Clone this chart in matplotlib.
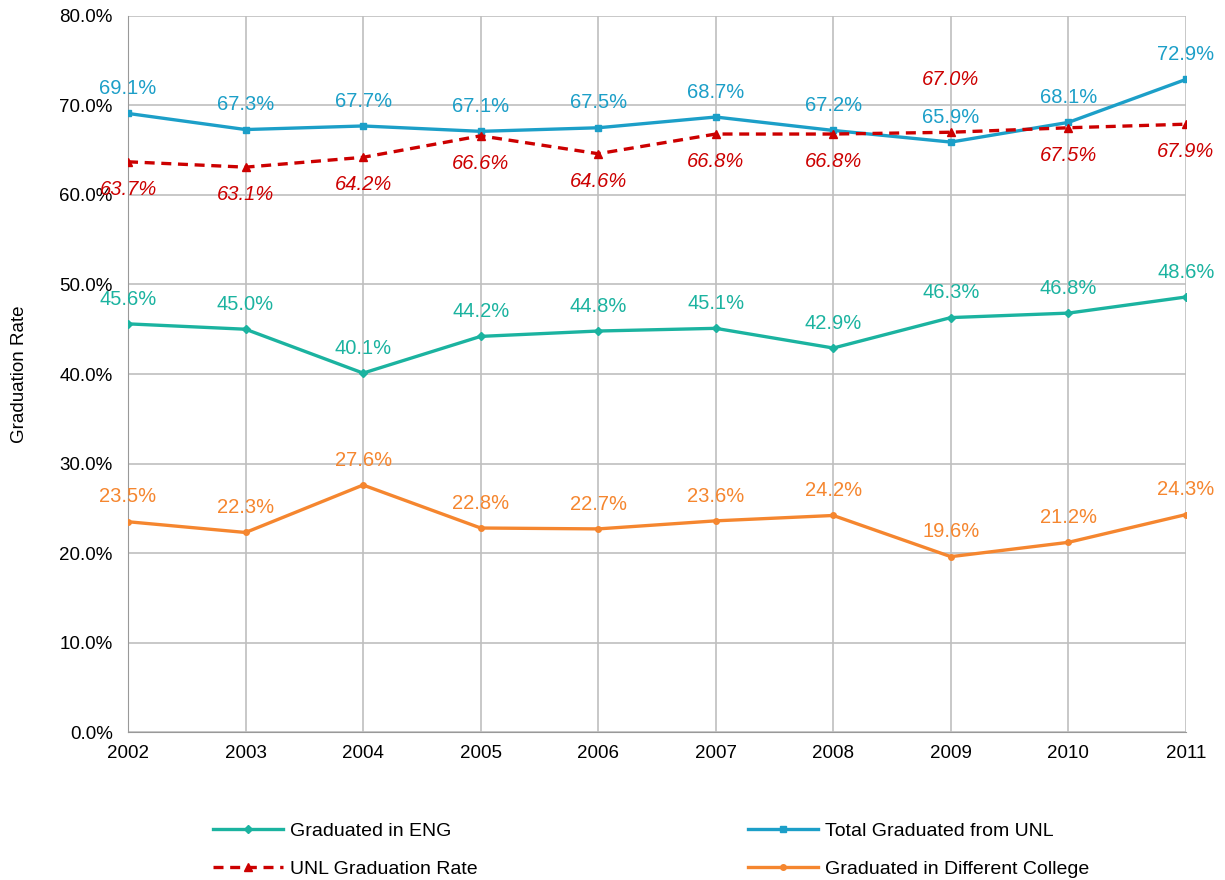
import matplotlib.pyplot as plt
from matplotlib.ticker import FuncFormatter

years = [2002, 2003, 2004, 2005, 2006, 2007, 2008, 2009, 2010, 2011]
eng = [45.6, 45.0, 40.1, 44.2, 44.8, 45.1, 42.9, 46.3, 46.8, 48.6]
total_unl = [69.1, 67.3, 67.7, 67.1, 67.5, 68.7, 67.2, 65.9, 68.1, 72.9]
unl_rate = [63.7, 63.1, 64.2, 66.6, 64.6, 66.8, 66.8, 67.0, 67.5, 67.9]
diff_college = [23.5, 22.3, 27.6, 22.8, 22.7, 23.6, 24.2, 19.6, 21.2, 24.3]

c_eng = "#1BB3A0"
c_total = "#1C9FC8"
c_rate = "#CC0000"
c_diff = "#F5862F"

plt.rcParams['font.family'] = ['Liberation Sans', 'DejaVu Sans']

fig = plt.figure(figsize=(12.25, 8.8), dpi=100)
ax = fig.add_axes([0.1045, 0.168, 0.8636, 0.814])

l1, = ax.plot(years, eng, color=c_eng, lw=2.4, marker="D", ms=4, label="Graduated in ENG", zorder=3)
l2, = ax.plot(years, total_unl, color=c_total, lw=2.4, marker="s", ms=5, label="Total Graduated from UNL", zorder=3)
l3, = ax.plot(years, unl_rate, color=c_rate, lw=2.4, ls=(0, (3, 2)), marker="^", ms=6, label="UNL Graduation Rate", zorder=3)
l4, = ax.plot(years, diff_college, color=c_diff, lw=2.4, marker="o", ms=4, label="Graduated in Different College", zorder=3)

fs = 14.5
for x, y in zip(years, eng):
    ax.annotate(f"{y:.1f}%", (x, y), xytext=(0, 11), textcoords="offset points",
                ha="center", va="bottom", color=c_eng, fontsize=fs)
for x, y in zip(years, total_unl):
    ax.annotate(f"{y:.1f}%", (x, y), xytext=(0, 11), textcoords="offset points",
                ha="center", va="bottom", color=c_total, fontsize=fs)
for x, y in zip(years, unl_rate):
    if x == 2009:
        ax.annotate(f"{y:.1f}%", (x, y), xytext=(0, 31), textcoords="offset points",
                    ha="center", va="bottom", color=c_rate, fontsize=fs, style="italic")
    else:
        ax.annotate(f"{y:.1f}%", (x, y), xytext=(0, -13), textcoords="offset points",
                    ha="center", va="top", color=c_rate, fontsize=fs, style="italic")
for x, y in zip(years, diff_college):
    ax.annotate(f"{y:.1f}%", (x, y), xytext=(0, 11), textcoords="offset points",
                ha="center", va="bottom", color=c_diff, fontsize=fs)

ax.set_xlim(2002, 2011)
ax.set_ylim(0, 80)
ax.set_xticks(years)
ax.set_yticks(range(0, 81, 10))
ax.yaxis.set_major_formatter(FuncFormatter(lambda v, p: f"{v:.1f}%"))
ax.tick_params(labelsize=13.5, length=0)
ax.tick_params(axis="y", pad=11)
ax.tick_params(axis="x", pad=9)
ax.grid(True, color="#BFBFBF", lw=1.2)
ax.set_axisbelow(True)
for s in ["top", "right"]:
    ax.spines[s].set_visible(False)
ax.spines["left"].set_color("#999999")
ax.spines["bottom"].set_color("#999999")
ax.set_ylabel("Graduation Rate", fontsize=13.5)
ax.yaxis.set_label_coords(-0.095, 0.5)

leg_kw = dict(loc="upper left", frameon=False, fontsize=14, handlelength=3.6,
              handletextpad=0.35, labelspacing=1.05, borderpad=0, borderaxespad=0)
leg1 = fig.legend([l1, l3], [l1.get_label(), l3.get_label()],
                  bbox_to_anchor=(213 / 1225, 1 - 822 / 880), **leg_kw)
leg2 = fig.legend([l2, l4], [l2.get_label(), l4.get_label()],
                  bbox_to_anchor=(748 / 1225, 1 - 822 / 880), **leg_kw)

fig.savefig("out.png", dpi=100)
